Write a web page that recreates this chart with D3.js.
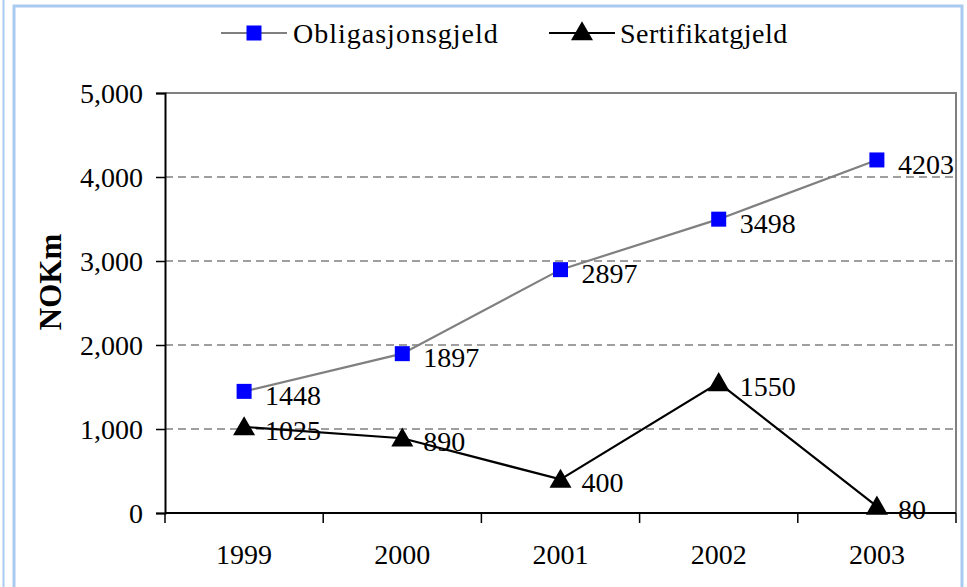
<!DOCTYPE html>
<html>
<head>
<meta charset="utf-8">
<script src="https://cdn.jsdelivr.net/npm/d3@7"></script>
<style>
  body { margin: 0; background: #fff; }
  svg { display: block; font-family: "Liberation Serif", "Times New Roman", serif; }
</style>
</head>
<body>
<div id="chart"></div>
<script>
const years = ['1999', '2000', '2001', '2002', '2003'];
const obligasjonsgjeld = [1448, 1897, 2897, 3498, 4203];
const sertifikatgjeld = [1025, 890, 400, 1550, 80];
const yTicks = [0, 1000, 2000, 3000, 4000, 5000];

const width = 967, height = 587;
const margin = {top: 93, right: 11, bottom: 74, left: 165};
const w = width - margin.left - margin.right;
const h = height - margin.top - margin.bottom;
const fs = 28;

const svg = d3.select('#chart').append('svg')
  .attr('width', width)
  .attr('height', height);

// outer frame
svg.append('line').attr('x1', 3.5).attr('x2', 3.5).attr('y1', 0).attr('y2', height)
  .attr('stroke', '#a9cbf2').attr('stroke-width', 2);
svg.append('path').attr('d', `M14,${height}V6H962V${height}`)
  .attr('fill', 'none').attr('stroke', '#a9cbf2').attr('stroke-width', 3);

const g = svg.append('g').attr('transform', `translate(${margin.left},${margin.top})`);

const x = d3.scaleBand().domain(years).range([0, w]);
const y = d3.scaleLinear().domain([0, 5000]).range([h, 0]);
const cx = d => x(d) + x.bandwidth() / 2;

// gridlines
g.selectAll('.grid').data(yTicks.filter(t => t > 0 && t < 5000)).join('line')
  .attr('x1', 0).attr('x2', w)
  .attr('y1', d => y(d)).attr('y2', d => y(d))
  .attr('stroke', '#808080').attr('stroke-width', 1.3).attr('stroke-dasharray', '8,5');

// plot frame top/right
g.append('path').attr('d', `M0,${y(5000)}H${w}V${h}`)
  .attr('fill', 'none').attr('stroke', '#808080').attr('stroke-width', 2);

// y axis
const yAxis = g.append('g')
  .call(d3.axisLeft(y).tickValues(yTicks).tickFormat(d3.format(',')).tickSize(9).tickPadding(13));
yAxis.select('.domain').attr('stroke', '#000').attr('stroke-width', 2);
yAxis.selectAll('line').attr('stroke', '#000').attr('stroke-width', 1.5);
yAxis.selectAll('text').attr('font-size', fs).attr('fill', '#000')
  .attr('font-family', '"Liberation Serif", serif').attr('dy', '0.33em');

// x axis: ticks at category boundaries
g.append('line').attr('x1', 0).attr('x2', w).attr('y1', h).attr('y2', h)
  .attr('stroke', '#000').attr('stroke-width', 2);
const bounds = years.map(d => x(d)).concat([w]);
g.selectAll('.xtick').data(bounds).join('line')
  .attr('x1', d => d).attr('x2', d => d).attr('y1', h).attr('y2', h + 10)
  .attr('stroke', '#000').attr('stroke-width', 1.5);
g.selectAll('.xlabel').data(years).join('text')
  .attr('x', d => cx(d)).attr('y', h + 51)
  .attr('text-anchor', 'middle').attr('font-size', fs).text(d => d);

// y title
svg.append('text')
  .attr('transform', `translate(61,${282}) rotate(-90)`)
  .attr('text-anchor', 'middle').attr('font-size', 31).attr('font-weight', 'bold')
  .text('NOKm');

// lines
const line = vals => d3.line().x((d, i) => cx(years[i])).y(d => y(d))(vals);
g.append('path').attr('d', line(obligasjonsgjeld))
  .attr('fill', 'none').attr('stroke', '#808080').attr('stroke-width', 2.2);
g.append('path').attr('d', line(sertifikatgjeld))
  .attr('fill', 'none').attr('stroke', '#000').attr('stroke-width', 2.2);

const sq = 15;
const tri = d3.symbol().type(d3.symbolTriangle).size(210);

g.selectAll('.sq').data(obligasjonsgjeld).join('rect')
  .attr('x', (d, i) => cx(years[i]) - sq / 2).attr('y', d => y(d) - sq / 2)
  .attr('width', sq).attr('height', sq).attr('fill', '#0000ff');
g.selectAll('.tri').data(sertifikatgjeld).join('path')
  .attr('d', tri)
  .attr('transform', (d, i) => `translate(${cx(years[i])},${y(d) + 2})`)
  .attr('fill', '#000');

// data labels
const labels = (vals, dy) => g.append('g').selectAll('text').data(vals).join('text')
  .attr('x', (d, i) => cx(years[i]) + 21).attr('y', d => y(d) + dy)
  .attr('font-size', fs).attr('dy', '0.35em').text(d => d);
labels(obligasjonsgjeld, 4);
labels(sertifikatgjeld, 3);

// legend
const leg = svg.append('g').attr('transform', 'translate(0,33)');
leg.append('line').attr('x1', 221).attr('x2', 287).attr('stroke', '#808080').attr('stroke-width', 2.2);
leg.append('rect').attr('x', 254 - sq / 2).attr('y', -sq / 2).attr('width', sq).attr('height', sq).attr('fill', '#0000ff');
leg.append('text').attr('x', 293).attr('dy', '0.35em').attr('font-size', fs).attr('letter-spacing', 1)
  .text('Obligasjonsgjeld');
leg.append('line').attr('x1', 549).attr('x2', 615).attr('stroke', '#000').attr('stroke-width', 2.2);
leg.append('path').attr('d', tri).attr('transform', 'translate(582,1)').attr('fill', '#000');
leg.append('text').attr('x', 620).attr('dy', '0.35em').attr('font-size', fs).attr('letter-spacing', 0.5)
  .text('Sertifikatgjeld');
</script>
</body>
</html>
